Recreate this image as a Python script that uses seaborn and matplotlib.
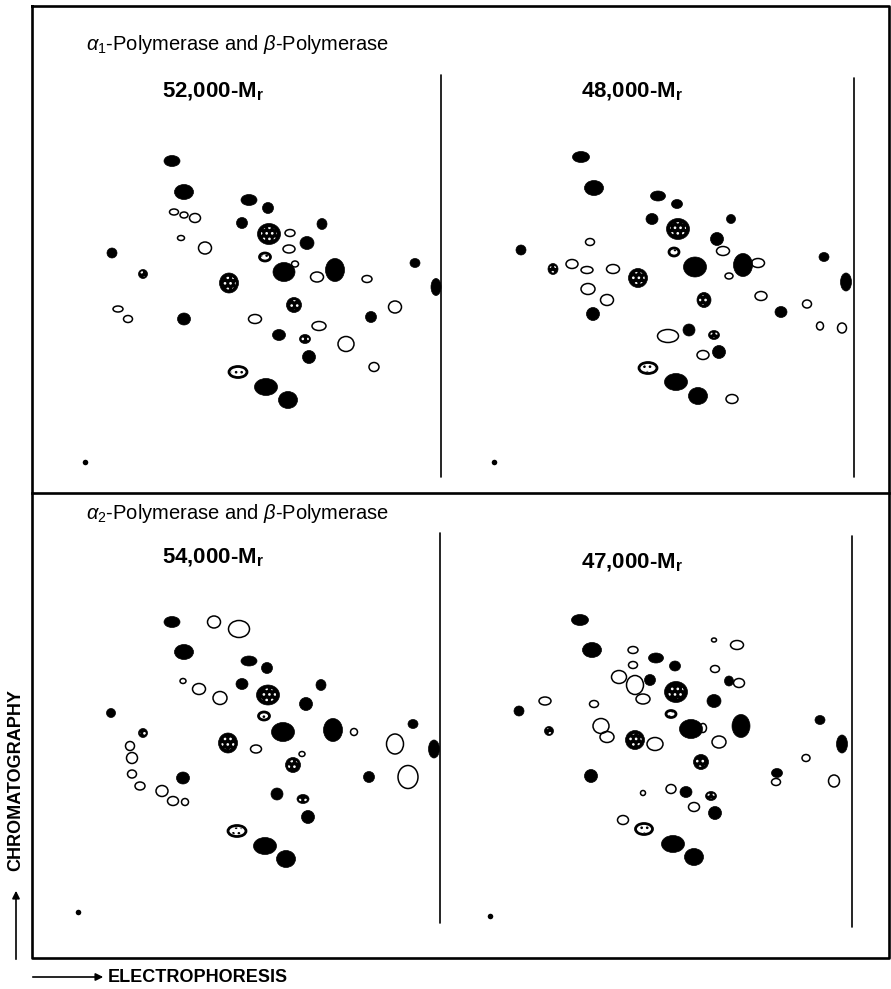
import numpy as np
import matplotlib
matplotlib.use("Agg")
import matplotlib.pyplot as plt
from matplotlib.collections import EllipseCollection
from matplotlib.patches import Ellipse
import seaborn as sns

sns.set_style("white")
plt.rcParams["font.family"] = ["Liberation Sans", "DejaVu Sans"]
plt.rcParams["text.color"] = "black"
plt.rcParams["mathtext.fontset"] = "custom"
plt.rcParams["mathtext.rm"] = "Liberation Sans"
plt.rcParams["mathtext.it"] = "Liberation Sans:italic"
plt.rcParams["mathtext.bf"] = "Liberation Sans:bold"
plt.rcParams["hatch.linewidth"] = 1.1

W, H = 891, 989

# peptide spots: (electrophoresis, chromatography, width, height, kind)
# kind: f = solid, s = solid with pale speckles, p = ringed / pale, o = open
a1_52k = [
    (87, 301, 16, 11, "f"), (99, 270, 19, 15, "f"), (89, 250, 9, 6, "o"),
    (99, 247, 8, 6, "o"), (110, 244, 11, 9, "o"), (96, 224, 7, 5, "o"),
    (120, 214, 13, 12, "o"), (27, 209, 10, 10, "f"), (58, 188, 9, 9, "s"),
    (144, 179, 19, 20, "s"), (164, 262, 16, 11, "f"), (183, 254, 11, 11, "f"),
    (157, 239, 11, 11, "f"), (184, 228, 23, 21, "s"), (205, 229, 10, 7, "o"),
    (204, 213, 12, 8, "o"), (222, 219, 14, 13, "f"), (237, 238, 10, 11, "f"),
    (180, 205, 11, 8, "p"), (199, 190, 22, 19, "f"), (210, 198, 7, 6, "o"),
    (250, 192, 19, 23, "f"), (232, 185, 13, 10, "o"), (282, 183, 10, 7, "o"),
    (330, 199, 10, 9, "f"), (351, 175, 10, 17, "f"), (310, 155, 13, 12, "o"),
    (209, 157, 15, 15, "s"), (33, 153, 10, 6, "o"), (43, 143, 9, 7, "o"),
    (99, 143, 13, 12, "f"), (170, 143, 13, 9, "o"), (234, 136, 14, 9, "o"),
    (194, 127, 13, 11, "f"), (220, 123, 11, 9, "s"), (261, 118, 16, 15, "o"),
    (286, 145, 11, 11, "f"), (224, 105, 13, 13, "f"), (289, 95, 10, 9, "o"),
    (153, 90, 18, 11, "p"), (181, 75, 23, 17, "f"), (203, 62, 19, 17, "f"),
]
a1_48k = [
    (87, 305, 17, 11, "f"), (100, 274, 19, 15, "f"), (164, 266, 15, 10, "f"),
    (183, 258, 11, 9, "f"), (158, 243, 12, 11, "f"), (184, 233, 23, 21, "s"),
    (237, 243, 9, 9, "f"), (96, 220, 9, 7, "o"), (223, 223, 13, 13, "f"),
    (229, 211, 13, 9, "o"), (180, 210, 10, 8, "p"), (27, 212, 10, 10, "f"),
    (59, 193, 10, 11, "s"), (78, 198, 12, 9, "o"), (93, 192, 12, 7, "o"),
    (119, 193, 13, 9, "o"), (144, 184, 19, 19, "s"), (201, 195, 23, 20, "f"),
    (249, 197, 19, 23, "f"), (264, 199, 13, 9, "o"), (235, 186, 8, 6, "o"),
    (330, 205, 10, 9, "f"), (352, 180, 11, 18, "f"), (94, 173, 14, 11, "o"),
    (113, 162, 13, 11, "o"), (99, 148, 13, 13, "f"), (210, 162, 14, 15, "s"),
    (267, 166, 12, 9, "o"), (313, 158, 9, 8, "o"), (287, 150, 12, 11, "f"),
    (326, 136, 7, 8, "o"), (348, 134, 9, 10, "o"), (174, 126, 21, 13, "o"),
    (195, 132, 12, 12, "f"), (220, 127, 11, 9, "s"), (209, 107, 12, 9, "o"),
    (225, 110, 13, 13, "f"), (154, 94, 18, 11, "p"), (182, 80, 23, 17, "f"),
    (204, 66, 19, 17, "f"), (238, 63, 12, 9, "o"),
]
a2_54k = [
    (94, 290, 16, 11, "f"), (136, 290, 13, 12, "o"), (161, 283, 21, 17, "o"),
    (106, 260, 19, 15, "f"), (171, 251, 16, 10, "f"), (189, 244, 11, 11, "f"),
    (105, 231, 6, 5, "o"), (121, 223, 13, 11, "o"), (142, 214, 14, 13, "o"),
    (164, 228, 12, 11, "f"), (190, 217, 23, 20, "s"), (243, 227, 10, 11, "f"),
    (228, 208, 13, 13, "f"), (186, 196, 11, 8, "p"), (33, 199, 9, 9, "f"),
    (65, 179, 9, 9, "s"), (150, 169, 19, 20, "s"), (205, 180, 23, 19, "f"),
    (255, 182, 19, 23, "f"), (276, 180, 7, 7, "o"), (178, 163, 11, 8, "o"),
    (224, 158, 6, 5, "o"), (215, 147, 15, 15, "s"), (335, 188, 10, 9, "f"),
    (317, 168, 17, 20, "o"), (356, 163, 11, 18, "f"), (330, 135, 20, 23, "o"),
    (291, 135, 11, 11, "f"), (52, 166, 9, 9, "o"), (54, 154, 11, 11, "o"),
    (54, 138, 9, 8, "o"), (62, 126, 10, 8, "o"), (84, 121, 12, 11, "o"),
    (95, 111, 11, 9, "o"), (107, 110, 7, 7, "o"), (105, 134, 13, 12, "f"),
    (199, 118, 12, 12, "f"), (225, 113, 12, 9, "s"), (230, 95, 13, 13, "f"),
    (159, 81, 18, 11, "p"), (187, 66, 23, 17, "f"), (208, 53, 19, 17, "f"),
]
a2_47k = [
    (90, 296, 17, 11, "f"), (102, 266, 19, 15, "f"), (143, 266, 10, 7, "o"),
    (166, 258, 15, 10, "f"), (143, 251, 9, 7, "o"), (185, 250, 11, 10, "f"),
    (224, 276, 5, 4, "o"), (247, 271, 13, 9, "o"), (225, 247, 9, 7, "o"),
    (129, 239, 15, 13, "o"), (145, 231, 17, 19, "o"), (160, 236, 11, 11, "f"),
    (186, 224, 23, 21, "s"), (239, 235, 9, 10, "f"), (249, 233, 11, 9, "o"),
    (153, 217, 14, 10, "o"), (224, 215, 14, 13, "f"), (55, 215, 12, 8, "o"),
    (104, 212, 9, 7, "o"), (181, 202, 10, 7, "p"), (29, 205, 10, 10, "f"),
    (59, 185, 9, 9, "s"), (111, 190, 16, 15, "o"), (117, 179, 14, 11, "o"),
    (145, 176, 19, 19, "s"), (165, 172, 16, 13, "o"), (201, 187, 23, 19, "f"),
    (213, 188, 7, 9, "o"), (251, 190, 18, 23, "f"), (229, 174, 14, 12, "o"),
    (330, 196, 10, 9, "f"), (352, 172, 11, 18, "f"), (316, 158, 8, 7, "o"),
    (287, 143, 11, 9, "f"), (286, 134, 9, 7, "o"), (344, 135, 11, 12, "o"),
    (211, 154, 15, 15, "s"), (101, 140, 13, 13, "f"), (153, 123, 5, 5, "o"),
    (181, 127, 10, 9, "o"), (196, 124, 12, 11, "f"), (221, 120, 11, 9, "s"),
    (204, 109, 11, 9, "o"), (225, 103, 13, 13, "f"), (133, 96, 11, 9, "o"),
    (154, 87, 17, 11, "p"), (183, 72, 23, 17, "f"), (204, 59, 19, 17, "f"),
]

panel_titles = ["52,000-M$_\\mathbf{r}$", "48,000-M$_\\mathbf{r}$",
                "54,000-M$_\\mathbf{r}$", "47,000-M$_\\mathbf{r}$"]
row_titles = [r"$\alpha_1$-Polymerase and $\beta$-Polymerase",
              r"$\alpha_2$-Polymerase and $\beta$-Polymerase"]

fig = plt.figure(figsize=(W / 100, H / 100), dpi=100)

# background layer in pixel units for the frame and labels
bg = fig.add_axes([0, 0, 1, 1])
bg.set_xlim(0, W)
bg.set_ylim(H, 0)
bg.axis("off")

frame = dict(color="black", lw=1.9, solid_capstyle="projecting")
bg.plot([32, 889, 889, 32, 32], [6, 6, 958, 958, 6], **frame)
bg.plot([32, 889], [493, 493], **frame)
for x, y0, y1 in [(441, 75, 477), (854, 78, 477), (440, 533, 923), (852, 536, 927)]:
    bg.plot([x, x], [y0, y1], color="black", lw=1.2)

bg.text(86, 50, row_titles[0], fontsize=14.5, va="baseline", ha="left")
bg.text(86, 519, row_titles[1], fontsize=14.5, va="baseline", ha="left")
for (cx, cy), t in zip([(213, 92), (632, 92), (213, 558), (632, 563)], panel_titles):
    bg.text(cx, cy, t, fontsize=16, fontweight="bold", ha="center", va="center")

lab = dict(fontsize=13, fontweight="bold")
bg.text(16, 780, "CHROMATOGRAPHY", rotation=90, ha="center", va="center", **lab)
bg.text(108, 977, "ELECTROPHORESIS", ha="left", va="center", **lab)
arrow = dict(arrowstyle="-|>", color="black", lw=1.2, mutation_scale=11)
bg.annotate("", xy=(16, 888), xytext=(16, 962), arrowprops=arrow)
bg.annotate("", xy=(106, 977), xytext=(30, 977), arrowprops=arrow)

# one axes per map, 1 data unit = 1 pixel, origin at the sample spot
origins = [(85, 462), (494, 462), (78, 912), (490, 916)]
xmin, xmax, ymin, ymax = -60, 380, -40, 400
styles = {
    "f": dict(facecolors="black", edgecolors="black", linewidths=0.5),
    "s": dict(facecolors="black", edgecolors="black", linewidths=0.5),
    "p": dict(facecolors="white", edgecolors="black", linewidths=2.0),
    "o": dict(facecolors="none", edgecolors="black", linewidths=1.1),
}

for spots, (ox, oy) in zip([a1_52k, a1_48k, a2_54k, a2_47k], origins):
    ax = fig.add_axes([(ox + xmin) / W, 1 - (oy - ymin) / H,
                       (xmax - xmin) / W, (ymax - ymin) / H])
    ax.set_xlim(xmin, xmax)
    ax.set_ylim(ymin, ymax)
    ax.axis("off")
    ax.patch.set_alpha(0)

    for z, kind in enumerate(["f", "s", "p", "o"]):
        sub = np.array([s[:4] for s in spots if s[4] == kind], dtype=float)
        if len(sub) == 0:
            continue
        ec = EllipseCollection(sub[:, 2], sub[:, 3], np.zeros(len(sub)), units="xy",
                               offsets=sub[:, :2], offset_transform=ax.transData,
                               zorder=2 + z, **styles[kind])
        ax.add_collection(ec)
        if kind in ("s", "p"):
            for x, y, w, h in sub:
                col = "white" if kind == "s" else "black"
                ax.add_patch(Ellipse((x, y), w * 0.7, h * 0.65, facecolor="none",
                                     edgecolor=col, lw=0, hatch="...", zorder=2.5 + z))

    sns.scatterplot(x=[0], y=[0], ax=ax, color="black", s=16, linewidth=0,
                    legend=False, zorder=10)

fig.savefig("out.png", dpi=100)
